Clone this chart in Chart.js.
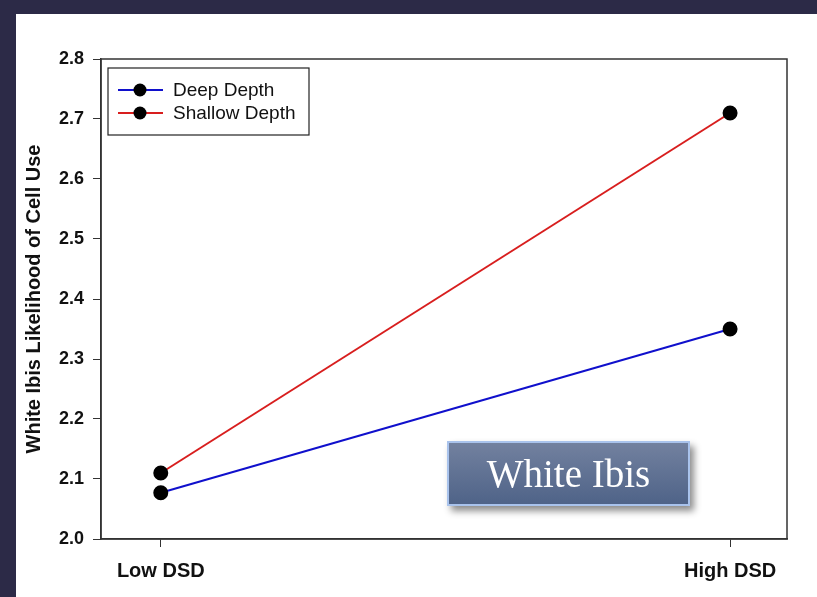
<!DOCTYPE html>
<html>
<head>
<meta charset="utf-8">
<script src="https://cdn.jsdelivr.net/npm/chart.js@4.4.1/dist/chart.umd.min.js"></script>
<style>
  html, body { margin: 0; padding: 0; background: #2c2a47; }
  #wrap { position: relative; width: 817px; height: 597px; overflow: hidden; }
  #WhiteIbisChart { position: absolute; left: 0; top: 0; }
  .badge {
    position: absolute; left: 447px; top: 441px; width: 243px; height: 65px;
    box-sizing: border-box;
    background: linear-gradient(#72819f, #4f6388);
    border: 2px solid #a9c3ec;
    box-shadow: 4px 5px 7px rgba(0,0,0,0.45);
    color: #fff; font-family: "Liberation Serif", "DejaVu Serif", serif;
    font-size: 39px; line-height: 61px; text-align: center;
  }
</style>
</head>
<body>
<div id="wrap">
  <canvas id="WhiteIbisChart" width="817" height="597"></canvas>
  <div class="badge">White Ibis</div>
</div>
<script>
const categories = ['Low DSD', 'High DSD'];
const deepDepth = [2.077, 2.35];     // blue
const shallowDepth = [2.11, 2.71];   // red
const yTicks = [2.0, 2.1, 2.2, 2.3, 2.4, 2.5, 2.6, 2.7, 2.8];

// page background + white panel, box around plot, legend inside plot
const framePlugin = {
    id: 'frame',
    beforeDraw(chart) {
        const c = chart.ctx;
        c.save();
        c.fillStyle = '#2c2a47';
        c.fillRect(0, 0, chart.width, chart.height);
        c.fillStyle = '#ffffff';
        c.fillRect(16, 14, chart.width - 16, chart.height - 14);
        c.restore();
    },
    beforeDatasetsDraw(chart) {
        const a = chart.chartArea, c = chart.ctx;
        c.save();
        c.strokeStyle = '#333';
        c.lineWidth = 1.5;
        c.strokeRect(a.left, a.top, a.right - a.left, a.bottom - a.top);
        c.restore();
    },
    afterDraw(chart) {
        const c = chart.ctx;
        c.save();
        c.strokeStyle = '#222';
        c.lineWidth = 1.2;
        c.strokeRect(108, 68, 201, 67);
        chart.data.datasets.forEach((ds, i) => {
            const y = 90 + i * 23;
            c.strokeStyle = ds.borderColor;
            c.lineWidth = 2;
            c.beginPath(); c.moveTo(118, y); c.lineTo(163, y); c.stroke();
            c.fillStyle = '#000';
            c.beginPath(); c.arc(140, y, 6.5, 0, Math.PI * 2); c.fill();
            c.fillStyle = '#111';
            c.font = '19px "Liberation Sans", Arial, sans-serif';
            c.textBaseline = 'middle';
            c.fillText(ds.label, 173, y + 1);
        });
        c.restore();
    }
};

const ctx = document.getElementById('WhiteIbisChart').getContext('2d');
new Chart(ctx, {
    type: 'line',
    data: {
        datasets: [{
            label: 'Deep Depth',
            data: deepDepth.map((v, i) => ({ x: i, y: v })),
            borderColor: '#1010cc',
            borderWidth: 2,
            pointBackgroundColor: '#000',
            pointBorderColor: '#000',
            pointRadius: 6.5
        }, {
            label: 'Shallow Depth',
            data: shallowDepth.map((v, i) => ({ x: i, y: v })),
            borderColor: '#d81e1e',
            borderWidth: 2,
            pointBackgroundColor: '#000',
            pointBorderColor: '#000',
            pointRadius: 6.5
        }]
    },
    options: {
        responsive: false,
        animation: false,
        layout: { padding: { left: 16, top: 59, right: 30, bottom: 0 } },
        plugins: { legend: { display: false }, tooltip: { enabled: false } },
        scales: {
            x: {
                type: 'linear',
                min: -0.105,
                max: 1.1,
                afterBuildTicks: (s) => { s.ticks = categories.map((c, i) => ({ value: i })); },
                afterFit: (s) => { s.height = 58; },
                grid: { drawOnChartArea: false, tickLength: 8, tickColor: '#333' },
                border: { color: '#333', width: 1.5 },
                ticks: {
                    padding: 12,
                    color: '#111',
                    font: { family: '"Liberation Sans", Arial, sans-serif', size: 20, weight: 'bold' },
                    callback: (v) => categories[v]
                }
            },
            y: {
                min: 2.0,
                max: 2.8,
                afterBuildTicks: (s) => { s.ticks = yTicks.map(v => ({ value: v })); },
                afterFit: (s) => { s.width = 85; },
                grid: { drawOnChartArea: false, tickLength: 8, tickColor: '#333' },
                border: { color: '#333', width: 1.5 },
                title: {
                    display: true,
                    text: 'White Ibis Likelihood of Cell Use',
                    color: '#111',
                    padding: { top: 6, bottom: 0 },
                    font: { family: '"Liberation Sans", Arial, sans-serif', size: 20, weight: 'bold' }
                },
                ticks: {
                    padding: 9,
                    color: '#111',
                    font: { family: '"Liberation Sans", Arial, sans-serif', size: 18, weight: 'bold' },
                    callback: (v) => v.toFixed(1)
                }
            }
        }
    },
    plugins: [framePlugin]
});
</script>
</body>
</html>
